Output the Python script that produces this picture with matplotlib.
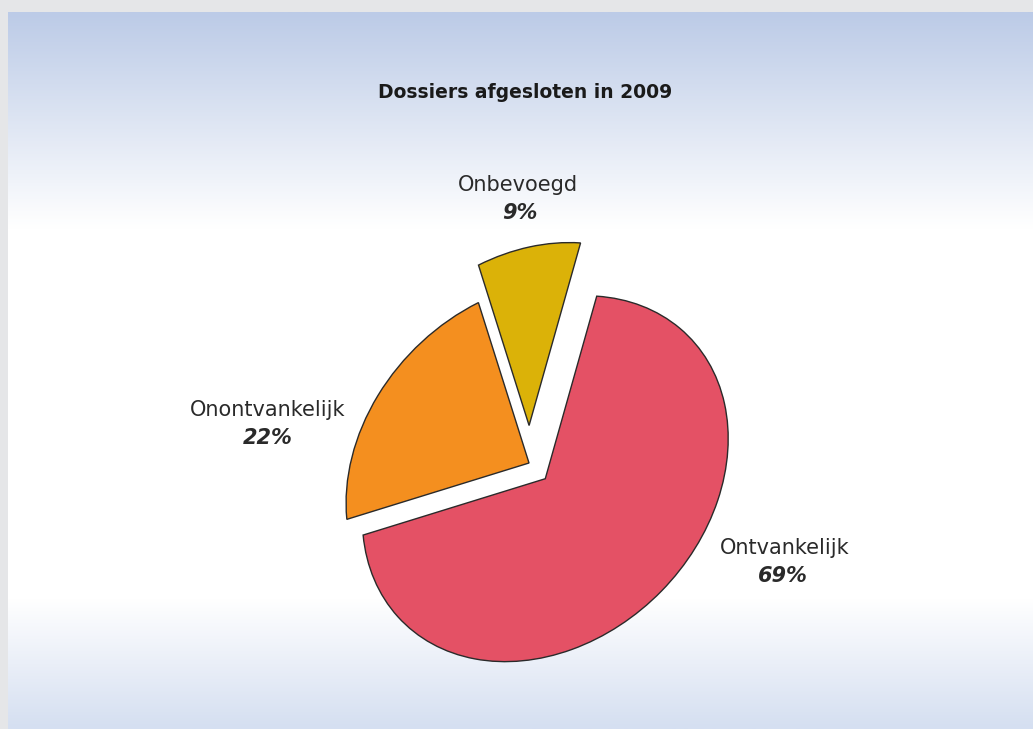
import numpy as np
import matplotlib
matplotlib.use("Agg")
import matplotlib.pyplot as plt
from matplotlib.colors import LinearSegmentedColormap
from matplotlib.transforms import Affine2D

# data
labels = ["Onbevoegd", "Onontvankelijk", "Ontvankelijk"]
shares = [9, 22, 69]
colors = ["#dbb208", "#f48f1f", "#e45165"]
explode = [0.21, 0.0, 0.14]  # as a fraction of the radius

plt.rcParams['font.family'] = ['DejaVu Sans']

W, H = 1033, 729
fig = plt.figure(figsize=(W / 100, H / 100), dpi=100)
fig.patch.set_facecolor("#e5e6e8")

# background panel with vertical gradient
bg = fig.add_axes([8 / W, 0, 1 - 8 / W, (H - 12) / H])
bg.axis("off")
grad = LinearSegmentedColormap.from_list(
    "panel",
    [(0.0, "#d5dff1"), (0.18, "#ffffff"), (0.70, "#ffffff"), (1.0, "#bccbe7")])
bg.imshow(np.linspace(0, 1, 256).reshape(-1, 1), aspect="auto", cmap=grad,
          origin="lower", extent=[0, 1, 0, 1])
bg.set_xlim(0, 1)
bg.set_ylim(0, 1)

# pie drawn in pixel coordinates (y up)
ax = fig.add_axes([0, 0, 1, 1])
ax.patch.set_alpha(0)
R = 202
cx, cy = 529, H - 463
wedges, _ = ax.pie(shares, explode=[e * R for e in explode], colors=colors,
                   radius=R, center=(cx, cy), startangle=80, counterclock=True,
                   wedgeprops=dict(edgecolor="#2a2a2a", linewidth=1.0))

# slight tilt of the pie: squash along the 135 degree direction
tilt = Affine2D(np.array([[0.9, 0.1, 0], [0.1, 0.9, 0], [0, 0, 1]]))
tilt = Affine2D().translate(-cx, -cy) + tilt + Affine2D().translate(cx, cy)
for w in wedges:
    w.set_transform(tilt + ax.transData)

ax.set_xlim(0, W)
ax.set_ylim(0, H)
ax.set_aspect("auto")
ax.axis("off")

# labels
label_pos = [(518, 185), (268, 410), (785, 548)]
pct_pos = [(520, 213), (268, 438), (783, 576)]
for name, pct, (lx, ly), (px, py) in zip(labels, shares, label_pos, pct_pos):
    ax.text(lx, H - ly, name, ha="center", va="center", fontsize=15,
            color="#2a2a2a")
    ax.text(px, H - py, f"{pct}%", ha="center", va="center", fontsize=15,
            color="#2a2a2a", fontweight="bold", fontstyle="italic")

ax.text(525, H - 92, "Dossiers afgesloten in 2009", ha="center", va="center",
        fontsize=13.5, fontweight="bold", color="#1a1a1a")

fig.savefig("out.png", dpi=100)
